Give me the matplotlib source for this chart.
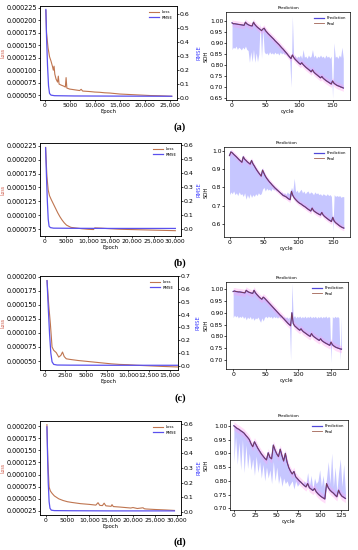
import numpy as np
import matplotlib.pyplot as plt
from matplotlib.ticker import FuncFormatter, MultipleLocator

# ---------------- training curves (loss on left axis, RMSE on twin axis) ----------------
loss_ep_a = [270, 400, 700, 1000, 1300, 1600, 1750, 1900, 2050, 2300, 2600, 2750, 2900, 3300, 3800, 4150, 4300,
             4450, 5000, 6000, 7000, 7300, 7600, 9000, 10000, 11000, 12000, 13000, 15000, 17000, 19000,
             21000, 23000, 25350]
loss_a = [220, 175, 145, 127, 118, 107, 100, 108, 92, 82, 76, 88, 72, 70, 68, 66, 85, 64, 62, 60.5, 59,
          61.5, 58, 57, 56, 55.5, 54.5, 54, 52, 51, 50, 49, 48.5, 47.5]
rmse_ep_a = [270, 400, 600, 800, 1000, 1300, 2000, 6000, 15000, 25350]
rmse_a = [0.635, 0.44, 0.23, 0.085, 0.03, 0.018, 0.014, 0.012, 0.011, 0.010]

loss_ep_b = [200, 500, 800, 1100, 1500, 2000, 2500, 3000, 3500, 4000, 4500, 5000, 6000, 7000, 8500, 10000,
             11200, 11500, 13000, 15000, 17500, 20000, 22500, 25000, 27500, 30000]
loss_b = [222, 170, 145, 135, 128, 120, 112, 104, 97, 91, 86, 82, 78, 77, 75.5, 74.5, 74, 77, 76.5, 75.5,
          74.5, 74, 73.5, 73, 72.5, 72]
rmse_ep_b = [200, 400, 600, 800, 1000, 1300, 2000, 6000, 15000, 30000]
rmse_b = [0.58, 0.38, 0.2, 0.07, 0.02, 0.01, 0.006, 0.005, 0.004, 0.004]

loss_ep_c = [300, 500, 700, 900, 1100, 1400, 1700, 1950, 2150, 2350, 2600, 3000, 3500, 4000, 5000, 6000,
             7000, 8000, 9000, 10000, 11000, 12500, 14000, 15900]
loss_c = [193, 150, 116, 75, 69, 65, 57, 60, 66, 58, 54, 53, 52, 51, 49.5, 48, 46.5, 45, 44, 43.5, 42.5,
          41.5, 40.5, 39.5]
rmse_ep_c = [300, 450, 600, 750, 900, 1100, 1500, 3000, 8000, 15900]
rmse_c = [0.665, 0.45, 0.25, 0.1, 0.03, 0.01, 0.005, 0.004, 0.003, 0.003]

loss_ep_d = [300, 500, 800, 1100, 1500, 2000, 3000, 4000, 5000, 6000, 8000, 10000, 11500, 12000, 12400,
             13000, 13400, 13800, 15000, 15200, 15500, 17000, 19500, 20000, 21000, 22300, 22600, 23000,
             25000, 27500, 29500]
loss_d = [203, 130, 74, 66, 61, 56, 50, 46.5, 44, 42.5, 40, 38.5, 37, 42, 36.5, 36, 41, 35.5, 34.5, 38,
          34, 33, 31, 32, 30, 31.5, 29.5, 29, 28, 27, 26]
rmse_ep_d = [300, 450, 600, 800, 1000, 1300, 2000, 6000, 15000, 29500]
rmse_d = [0.58, 0.38, 0.2, 0.07, 0.025, 0.012, 0.009, 0.008, 0.007, 0.007]

# ---------------- SOH prediction (cycles every 2) ----------------
cyc_abc = list(range(0, 167, 2))
cyc_d = list(range(0, 131, 2))

soh_a = [0.990, 0.986, 0.986, 0.985, 0.984, 0.983, 0.982, 0.981, 0.980, 0.979, 0.993, 0.986, 0.982, 0.979,
         0.977, 0.976, 0.993, 0.983, 0.976, 0.970, 0.965, 0.960, 0.955, 0.962, 0.966, 0.955, 0.948, 0.941,
         0.935, 0.929, 0.923, 0.917, 0.910, 0.904, 0.898, 0.892, 0.885, 0.878, 0.872, 0.865, 0.858, 0.851,
         0.843, 0.836, 0.829, 0.845, 0.834, 0.826, 0.820, 0.814, 0.808, 0.803, 0.810, 0.802, 0.796, 0.790,
         0.785, 0.780, 0.775, 0.769, 0.778, 0.768, 0.762, 0.757, 0.752, 0.747, 0.742, 0.748, 0.740, 0.735,
         0.730, 0.726, 0.722, 0.718, 0.714, 0.728, 0.718, 0.713, 0.709, 0.706, 0.704, 0.701, 0.699, 0.696]
band_a = [0.870, 0.880, 0.875, 0.885, 0.870, 0.880, 0.875, 0.868, 0.880, 0.872, 0.885, 0.870, 0.865, 0.812,
          0.860, 0.815, 0.870, 0.812, 0.855, 0.815, 0.850, 0.990, 0.830, 0.960, 0.860, 0.850, 0.855, 0.845,
          0.860, 0.850, 0.855, 0.848, 0.858, 0.850, 0.855, 0.845, 0.858, 0.850, 0.855, 0.848, 0.850, 0.845,
          0.835, 0.830, 0.700, 1.020, 0.830, 0.845, 0.830, 0.840, 0.835, 0.845, 0.830, 0.870, 0.835, 0.840,
          0.830, 0.845, 0.835, 0.840, 0.870, 0.835, 0.845, 0.830, 0.840, 0.835, 0.845, 0.835, 0.840, 0.830,
          0.845, 0.835, 0.840, 0.830, 0.840, 0.650, 0.900, 0.835, 0.840, 0.830, 0.845, 0.835, 0.880, 0.830]

soh_b = [0.975, 0.995, 0.990, 0.982, 0.975, 0.968, 0.960, 0.952, 0.945, 0.938, 0.968, 0.955, 0.948, 0.940,
         0.934, 0.928, 0.948, 0.930, 0.918, 0.905, 0.893, 0.882, 0.872, 0.862, 0.895, 0.878, 0.862, 0.850,
         0.840, 0.830, 0.822, 0.813, 0.805, 0.797, 0.790, 0.783, 0.776, 0.769, 0.762, 0.755, 0.752, 0.748,
         0.742, 0.736, 0.732, 0.778, 0.755, 0.742, 0.733, 0.725, 0.718, 0.712, 0.708, 0.702, 0.697, 0.692,
         0.686, 0.680, 0.675, 0.670, 0.686, 0.672, 0.666, 0.661, 0.656, 0.652, 0.648, 0.662, 0.648, 0.640,
         0.634, 0.628, 0.622, 0.617, 0.612, 0.635, 0.615, 0.606, 0.600, 0.594, 0.588, 0.583, 0.579, 0.576]
band_b = [0.760, 0.775, 0.765, 0.780, 0.760, 0.770, 0.755, 0.775, 0.760, 0.765, 0.750, 0.770, 0.735, 0.760,
          0.740, 0.765, 0.745, 0.760, 0.750, 0.765, 0.755, 0.770, 0.760, 0.765, 0.790, 0.800, 0.780, 0.795,
          0.785, 0.790, 0.780, 0.795, 0.785, 0.790, 0.780, 0.785, 0.780, 0.770, 0.775, 0.765, 0.770, 0.760,
          0.775, 0.765, 0.770, 0.800, 0.780, 0.850, 0.775, 0.785, 0.770, 0.780, 0.790, 0.770, 0.780, 0.765,
          0.775, 0.780, 0.765, 0.775, 0.770, 0.760, 0.775, 0.765, 0.770, 0.760, 0.765, 0.755, 0.765, 0.760,
          0.755, 0.765, 0.755, 0.760, 0.750, 0.560, 0.760, 0.750, 0.755, 0.750, 0.755, 0.745, 0.750, 0.748]

soh_c = [0.990, 0.992, 0.990, 0.989, 0.988, 0.988, 0.987, 0.986, 0.985, 0.984, 0.995, 0.990, 0.987, 0.985,
         0.983, 0.982, 0.995, 0.985, 0.978, 0.972, 0.966, 0.961, 0.957, 0.966, 0.962, 0.956, 0.950, 0.944,
         0.938, 0.932, 0.926, 0.920, 0.914, 0.908, 0.902, 0.896, 0.890, 0.885, 0.879, 0.873, 0.867, 0.861,
         0.855, 0.850, 0.845, 0.900, 0.855, 0.845, 0.840, 0.835, 0.830, 0.826, 0.832, 0.824, 0.819, 0.815,
         0.811, 0.807, 0.803, 0.800, 0.812, 0.803, 0.798, 0.794, 0.790, 0.786, 0.783, 0.790, 0.782, 0.778,
         0.774, 0.771, 0.768, 0.765, 0.762, 0.776, 0.765, 0.760, 0.756, 0.753, 0.751, 0.749, 0.747, 0.746]
band_c = [0.880, 0.890, 0.882, 0.888, 0.878, 0.885, 0.880, 0.887, 0.876, 0.884, 0.870, 0.882, 0.875, 0.884,
          0.872, 0.880, 0.868, 0.878, 0.874, 0.882, 0.870, 0.860, 0.878, 0.865, 0.880, 0.885, 0.878, 0.886,
          0.880, 0.884, 0.876, 0.885, 0.879, 0.883, 0.877, 0.884, 0.878, 0.882, 0.876, 0.884, 0.878, 0.883,
          0.876, 0.882, 0.700, 1.025, 0.880, 0.888, 0.878, 0.885, 0.880, 0.886, 0.878, 0.884, 0.879, 0.886,
          0.878, 0.884, 0.880, 0.886, 0.878, 0.884, 0.880, 0.885, 0.877, 0.884, 0.879, 0.885, 0.878, 0.884,
          0.880, 0.886, 0.878, 0.884, 0.880, 0.690, 0.884, 0.878, 0.885, 0.880, 0.884, 0.878, 0.700, 0.880]

soh_d = [1.000, 0.995, 0.990, 0.987, 0.982, 0.978, 0.973, 0.965, 0.958, 0.950, 0.935, 0.924, 0.942, 0.930,
         0.918, 0.908, 0.898, 0.890, 0.882, 0.876, 0.902, 0.885, 0.880, 0.930, 0.912, 0.898, 0.888, 0.915,
         0.892, 0.872, 0.900, 0.868, 0.848, 0.835, 0.825, 0.834, 0.815, 0.808, 0.801, 0.795, 0.789, 0.783,
         0.778, 0.790, 0.775, 0.770, 0.765, 0.772, 0.760, 0.753, 0.747, 0.742, 0.738, 0.734, 0.790, 0.775,
         0.766, 0.760, 0.755, 0.748, 0.742, 0.766, 0.752, 0.744, 0.740, 0.736]
band_d = [0.870, 0.960, 0.860, 0.940, 0.840, 0.950, 0.830, 0.930, 0.845, 0.900, 0.840, 0.880, 0.820, 0.890,
          0.830, 0.870, 0.810, 0.860, 0.800, 0.850, 0.810, 0.840, 0.790, 0.870, 0.800, 0.850, 0.790, 0.820,
          0.780, 0.810, 0.790, 0.800, 0.780, 0.790, 0.800, 0.770, 0.800, 0.780, 0.790, 0.800, 0.785, 0.800,
          0.790, 0.830, 0.780, 0.820, 0.770, 0.810, 0.790, 0.800, 0.840, 0.780, 0.820, 0.760, 0.810, 0.870,
          0.790, 0.900, 0.780, 0.850, 0.760, 0.830, 0.880, 0.780, 0.860, 0.760]

panel_labels = ["(a)", "(b)", "(c)", "(d)"]

W, H = 358, 550
C_LOSS = "#bf7550"
C_RMSE = "#5a50ee"
C_PRED = "#5048d8"
C_REAL = "#8a3a28"


def box(x0, x1, y0, y1):
    return [x0 / W, 1 - y1 / H, (x1 - x0) / W, (y1 - y0) / H]


def epoch_fmt(v, pos):
    v = int(round(v))
    return f"{v:,}" if v >= 10000 else str(v)


def style(ax, xs, ys):
    ax.tick_params(length=1.3, width=0.5, pad=0.6)
    ax.tick_params(axis="x", labelsize=xs)
    ax.tick_params(axis="y", labelsize=ys)
    for s in ax.spines.values():
        s.set_linewidth(0.5)


def train_panel(x0, x1, y0, y1, ep, loss, rep, rmse, xlim, ylim, ylim2, xstep):
    ax = fig.add_axes(box(x0, x1, y0, y1))
    l1, = ax.plot(ep, np.array(loss) * 1e-6, color=C_LOSS, lw=0.8, label="Loss")
    ax.set_xlim(*xlim)
    ax.set_ylim(*ylim)
    ax.yaxis.set_major_locator(MultipleLocator(0.000025))
    ax.yaxis.set_major_formatter(FuncFormatter(lambda v, p: f"{v:.6f}"))
    ax.xaxis.set_major_locator(MultipleLocator(xstep))
    ax.xaxis.set_major_formatter(FuncFormatter(epoch_fmt))
    ax.set_xlabel("Epoch", fontsize=3.8, labelpad=1)
    ax.set_ylabel("Loss", fontsize=3.3, color="#d06050", va="center")
    ax.yaxis.set_label_coords((3.2 - x0) / (x1 - x0), 0.5)
    style(ax, 4.3, 4.7)
    ax2 = ax.twinx()
    l2, = ax2.plot(rep, rmse, color=C_RMSE, lw=0.9, label="RMSE")
    ax2.set_ylim(*ylim2)
    ax2.yaxis.set_major_locator(MultipleLocator(0.1))
    ax2.set_ylabel("RMSE", fontsize=3.8, color="#4040ff")
    ax2.yaxis.set_label_coords((196 - x0) / (x1 - x0), 0.5)
    style(ax2, 4.3, 4.5)
    ax.legend(handles=[l1, l2], loc="upper right", fontsize=2.8, frameon=False,
              handlelength=2.5, borderaxespad=0.6)


def soh_panel(x0, x1, y0, y1, cyc, soh, band, xlim, ylim, ystep, xstep):
    ax = fig.add_axes(box(x0, x1, y0, y1))
    ax.fill_between(cyc, soh, band, color="#b4b4ff", alpha=0.75, lw=0)
    ax.fill_between(cyc, np.array(soh) - 0.015, np.array(soh) + 0.015, color="#ff9cf0", alpha=0.35, lw=0)
    ax.plot(cyc, soh, color=C_PRED, lw=0.9, label="Prediction")
    ax.plot(cyc, soh, color=C_REAL, lw=0.6, alpha=0.8, label="Real")
    ax.set_xlim(*xlim)
    ax.set_ylim(*ylim)
    ax.yaxis.set_major_locator(MultipleLocator(ystep))
    ax.xaxis.set_major_locator(MultipleLocator(xstep))
    ax.set_title("Prediction", fontsize=3.2, pad=2)
    ax.set_xlabel("cycle", fontsize=3.8, labelpad=1)
    ax.set_ylabel("SOH", fontsize=3.8)
    ax.yaxis.set_label_coords((209 - x0) / (x1 - x0), 0.5)
    style(ax, 4.4, 4.3)
    ax.legend(loc="upper right", fontsize=2.8, frameon=False, handlelength=2.5, borderaxespad=0.6)


fig = plt.figure(figsize=(W / 100, H / 100), dpi=100)

train_panel(39.5, 177, 6, 100, loss_ep_a, loss_a, rmse_ep_a, rmse_a,
            (-1000, 26400), (0.0000400, 0.000229), (-0.017, 0.66), 5000)
train_panel(39.5, 181, 143, 236, loss_ep_b, loss_b, rmse_ep_b, rmse_b,
            (-1200, 31300), (0.0000624, 0.00023), (-0.05, 0.614), 5000)
train_panel(39.5, 178, 276, 370, loss_ep_c, loss_c, rmse_ep_c, rmse_c,
            (-600, 15950), (0.0000341, 0.000201), (-0.034, 0.702), 2500)
train_panel(39.5, 181, 421, 515, loss_ep_d, loss_d, rmse_ep_d, rmse_d,
            (-1400, 31000), (0.0000166, 0.0002105), (-0.021, 0.62), 5000)

soh_panel(226, 350, 12, 100, cyc_abc, soh_a, band_a, (-9, 176), (0.642, 1.039), 0.05, 50)
soh_panel(224, 350, 147, 237, cyc_abc, soh_b, band_b, (-8, 175), (0.527, 1.022), 0.1, 50)
soh_panel(226, 348, 282, 369, cyc_abc, soh_c, band_c, (-11, 176), (0.662, 1.030), 0.05, 50)
soh_panel(230, 348, 420, 510, cyc_d, soh_d, band_d, (-4.5, 133), (0.694, 1.021), 0.05, 25)

for lab, y in zip(panel_labels, [127, 263, 398, 542]):
    fig.text(180 / W, 1 - y / H, lab, ha="center", va="center", fontsize=7.5,
             family="Liberation Serif", weight="bold")

fig.savefig("out.png", dpi=100)
